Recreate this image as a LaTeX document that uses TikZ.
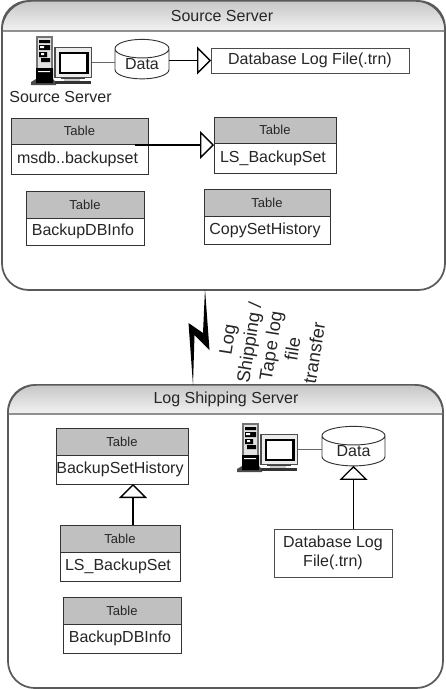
\documentclass[tikz,border=0pt]{standalone}
\usepackage{fontspec}
\setmainfont{Liberation Sans}
\usetikzlibrary{shapes.geometric,arrows.meta,calc}
\definecolor{frameg}{HTML}{5A5A5A}
\definecolor{hdrg}{HTML}{C0C0C0}
\tikzset{
  panel/.style={draw=frameg,line width=1.3pt,fill=white,rounded corners=20pt},
  panelhead/.style={draw=frameg,line width=1.1pt,top color=black!22,bottom color=black!5},
  paneltitle/.style={font=\fontsize{12}{14}\selectfont,text=black!85,inner sep=0pt},
  tblhead/.style={draw=black!80,line width=0.7pt,fill=hdrg,inner sep=0pt,outer sep=0pt,font=\fontsize{9.75}{12}\selectfont,text=black!85},
  tblbody/.style={draw=black!80,line width=0.7pt,fill=white,inner sep=0pt,outer sep=0pt,font=\fontsize{12}{14}\selectfont,text=black!85},
  filebox/.style={draw=black!70,line width=0.7pt,fill=white,inner sep=0pt,outer sep=0pt,align=center,font=\fontsize{12}{14.5}\selectfont,text=black!85},
  dbcyl/.style={cylinder,shape border rotate=90,shape aspect=0.55,draw=black!80,line width=0.7pt,fill=white,inner sep=0pt,outer sep=0pt,font=\fontsize{12}{14}\selectfont,text=black!85},
  inherit/.style={line width=1.1pt,draw=black,-{Triangle[open,fill=white,length=10.5pt,width=21pt,line width=1pt]}},
  plainlink/.style={line width=0.8pt,draw=black!60},
}
% name, x1, y1, x2, ymid, y2, text
\newcommand{\dbtable}[7]{%
  \node[tblhead,minimum width={(#4-#2)*0.75pt},minimum height={(#5-#3)*0.75pt}] (#1h) at ({(#2+#4)/2},{(#3+#5)/2}) {Table};
  \node[tblbody,minimum width={(#4-#2)*0.75pt},minimum height={(#6-#5)*0.75pt}] (#1b) at ({(#2+#4)/2},{(#5+#6)/2}) {\hspace*{-3pt}#7};
}
% name, dx, dy : computer icon; the reference position is the top one
\newcommand{\computer}[3]{%
  \begin{scope}[shift={(#2,#3)}]
    \fill[black!70] (31,82) -- (36,79) -- (53,79) -- (56,82) -- (56,85) -- (31,85) -- cycle;
    \fill[black!55] (36,36) rectangle (53,70);
    \fill[black!12] (38,38) rectangle (51,68);
    \fill[black] (39,40) rectangle (50,43) (39,45) rectangle (50,50) (39,52) rectangle (47,57) (41,58) rectangle (50,62) (36,68) rectangle (53,83);
    \fill[white] (40,46) rectangle (44,48) (41,53) rectangle (44,55) (38,71) rectangle (50,72);
    \fill[black!75] (61,77) rectangle (85,79);
    \fill[black!20] (64,79) rectangle (80,81);
    \fill[black!80] (55,81) rectangle (91,84);
    \node[draw=black!70,line width=0.8pt,fill=black!8,inner sep=0pt,outer sep=0pt,minimum width=27.5pt,minimum height=22pt] (#1) at (73.3,62.5) {};
    \draw[black,line width=1.8pt,fill=white] (60,53) rectangle (87.5,73);
  \end{scope}
}
\begin{document}
\begin{tikzpicture}[x=0.75pt,y=-0.75pt]
\useasboundingbox (0,0) rectangle (446,689);
\fill[white] (0,0) rectangle (446,689);

% source panel
\node[panel,minimum width=443*0.75pt,minimum height=289*0.75pt,inner sep=0pt] (srcpanel) at (223.5,145.5) {};
\draw[panelhead] (2,31) [rounded corners=22pt] -- (2,1) -- (445,1) [sharp corners] -- (445,31) -- cycle;
\node[paneltitle] (srctitle) at (222,15.5) {Source Server};

% destination panel
\node[panel,minimum width=435*0.75pt,minimum height=303*0.75pt,inner sep=0pt] (dstpanel) at (225.5,536.5) {};
\draw[panelhead] (8,414) [rounded corners=21pt] -- (8,385) -- (443,385) [sharp corners] -- (443,414) -- cycle;
\node[paneltitle] (dsttitle) at (226,399.5) {Log Shipping Server};

% lightning
\fill[black] (205,289) -- (209.5,350) -- (194.5,335) -- (193,385) -- (188.5,323) -- (203,333) -- cycle;
\node[rotate=81,align=center,inner sep=0pt,text=black!85,font=\fontsize{13.7}{16.5}\selectfont] (linklabel) at (271,346) {Log\\Shipping /\\Tape log\\file\\transfer};

% source contents
\computer{mon1}{0}{0}
\node[dbcyl,minimum width=54*0.75pt,minimum height=32*0.75pt] (data1) at (142,64) {Data};
\node[filebox,minimum width=198*0.75pt,minimum height=25*0.75pt] (log1) at (310,60.5) {Database Log File(.trn)};
\node[inner sep=0pt,font=\fontsize{12}{14}\selectfont,text=black!85] (srclabel) at (60.5,96.5) {Source Server};
\draw[plainlink] (mon1.east) -- (mon1.east -| data1.west);
\draw[inherit] (data1.east |- log1.west) -- (log1.west);

\dbtable{msdb}{11}{118}{148}{144}{174}{msdb..backupset}
\dbtable{lsa}{214}{117}{336}{143}{173}{LS\_BackupSet}
\dbtable{bdia}{26}{191}{144}{218}{245}{BackupDBInfo}
\dbtable{copy}{204}{189}{330}{216}{244}{CopySetHistory}
\coordinate (msdbstart) at ($(msdbh.south east)+(-13,1)$);
\draw[inherit] (msdbstart) -- (msdbstart -| lsah.west);

% destination contents
\computer{mon2}{206}{387}
\node[dbcyl,minimum width=63*0.75pt,minimum height=32*0.75pt] (data2) at (353.5,451) {Data};
\node[filebox,minimum width=118*0.75pt,minimum height=48*0.75pt] (log2) at (333,553) {Database Log\\File(.trn)};
\draw[plainlink] (mon2.east) -- (mon2.east -| data2.west);
\draw[inherit] (log2.north -| data2.south) -- (data2.south);

\dbtable{hist}{56}{428}{188}{455}{484}{BackupSetHistory}
\dbtable{lsb}{60}{525}{180}{552}{581}{LS\_BackupSet}
\dbtable{bdib}{63}{597}{181}{624}{653}{BackupDBInfo}
\coordinate (lsbstart) at ($(lsbh.north)+(13,0)$);
\draw[inherit] (lsbstart) -- (lsbstart |- histb.south);
\end{tikzpicture}
\end{document}
